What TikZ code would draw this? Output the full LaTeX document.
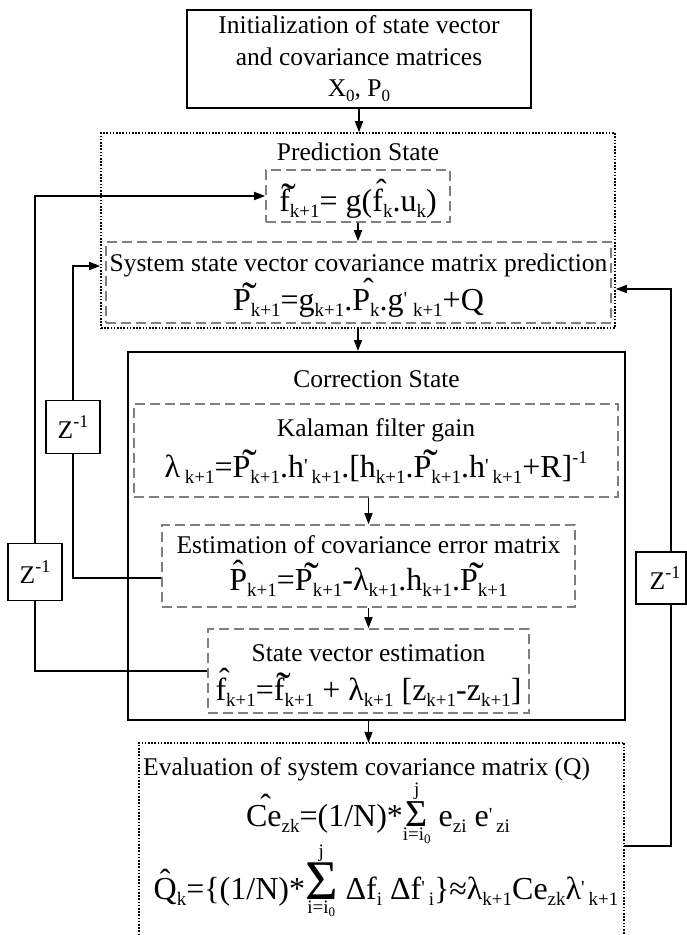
\documentclass[tikz,border=0pt]{standalone}
\usepackage{fontspec}
\setmainfont{Liberation Serif}
\newfontfamily\plainser{Liberation Serif}
\usetikzlibrary{arrows.meta,calc}

\newcommand\sbs[1]{\raisebox{-0.2em}{\fontsize{19}{19}\selectfont #1}}
\newcommand\tsb[1]{\raisebox{-0.2em}{\fontsize{17}{17}\selectfont #1}}
\newcommand\sps[1]{\raisebox{0.42em}{\fontsize{18}{18}\selectfont #1}}
\newcommand\sbz[1]{\raisebox{-0.15em}{\fontsize{13}{13}\selectfont #1}}
\newcommand\tld[1]{#1\rlap{\kern-0.25em\raisebox{-0.08em}{\fontsize{44}{44}\selectfont\symbol{"02DC}}}}
\newcommand\hatt[1]{#1\rlap{\kern-0.22em\raisebox{0.3em}{\symbol{"02C6}}}}
\newcommand\hatc[1]{{\ooalign{#1\cr\hidewidth\raisebox{0.22em}{\symbol{"02C6}}\hidewidth\cr}}}
\newcommand\prm{\raisebox{0.15em}{\fontsize{20}{20}\plainser '}}
\newcommand\lsum[3]{$\mathop{\hbox{\fontsize{#1}{#1}\selectfont Σ}}\limits_{\hbox{\raisebox{-#3}{\fontsize{19}{19}\selectfont i=i\sbz{0}}}}^{\hbox{\raisebox{#2}{\fontsize{19}{19}\selectfont j}}}$}

\begin{document}
\begin{tikzpicture}[x=1pt,y=-1pt,
  solidbox/.style={draw, line width=2pt, inner sep=0pt},
  dashbox/.style={draw=black!50, line width=1.6pt, dash pattern=on 10pt off 5pt, inner sep=0pt},
  dotbox/.style={draw, line width=1.6pt, dash pattern=on 1.6pt off 1.6pt, inner sep=0pt},
  zbox/.style={draw, line width=1.6pt, inner sep=0pt, font=\fontsize{25.5}{30}\selectfont},
  txt/.style={font=\fontsize{25.5}{31.5}\selectfont, inner sep=0pt},
  fml/.style={font=\fontsize{32}{38}\selectfont, inner sep=0pt},
  conn/.style={line width=1.6pt},
  arr/.style={conn, -{Triangle[length=11pt,width=8pt]}}]
\useasboundingbox (0,0) rectangle (686,935);

% top box
\node[solidbox, txt, align=center, minimum width=344pt, minimum height=98pt] (init) at (359,59)
  {Initialization of state vector\\and covariance matrices\\X\tsb{0}, P\tsb{0}};

% prediction
\node[dotbox, minimum width=514pt, minimum height=195pt] (pred) at (358,230.5) {};
\node[txt, anchor=base] (predt) at (358,160) {Prediction State};
\node[dashbox, minimum width=184pt, minimum height=52pt] (fbox) at (358,196) {};
\node[fml, anchor=base] (ff) at (358,211) {\tld{f}\sbs{k+1}= g(\hatt{f}\sbs{k}.u\sbs{k})};
\node[dashbox, minimum width=505pt, minimum height=81pt] (sys) at (358.5,282.5) {};
\node[txt, anchor=base] (syst) at (358.5,271) {System state vector covariance matrix prediction};
\node[fml, anchor=base] (sysf) at (358.5,310) {\tld{P}\sbs{k+1}=g\sbs{k+1}.\hatt{P}\sbs{k}.g\prm\sbs{\hspace{0.3em}k+1}+Q};

% correction
\node[solidbox, minimum width=497pt, minimum height=368pt] (corr) at (376.5,536) {};
\node[txt, anchor=base] (corrt) at (376.5,387) {Correction State};
\node[dashbox, minimum width=484pt, minimum height=93pt] (kal) at (376,450.5) {};
\node[txt, anchor=base] (kalt) at (376,436) {Kalaman filter gain};
\node[fml, anchor=base] (kalf) at (376,477) {λ\sbs{\hspace{0.25em}k+1}=\tld{P}\sbs{k+1}.h\prm\sbs{\hspace{0.2em}k+1}.[h\sbs{k+1}.\tld{P}\sbs{k+1}.h\prm\sbs{\hspace{0.2em}k+1}+R]\sps{-1}};
\node[dashbox, minimum width=413pt, minimum height=82pt] (est) at (368.5,566) {};
\node[txt, anchor=base] (estt) at (368.5,553) {Estimation of covariance error matrix};
\node[fml, anchor=base] (estf) at (368.5,590) {\hatc{P}\sbs{k+1}=\tld{P}\sbs{k+1}-λ\sbs{k+1}.h\sbs{k+1}.\tld{P}\sbs{k+1}};
\node[dashbox, minimum width=321pt, minimum height=84pt] (state) at (368.5,671) {};
\node[txt, anchor=base] (statet) at (368.5,661) {State vector estimation};
\node[fml, anchor=base] (statef) at (368.5,700) {\hatt{f}\sbs{k+1}=\tld{f}\sbs{k+1} + λ\sbs{k+1} [z\sbs{k+1}-z\sbs{k+1}]};

% evaluation
\node[minimum width=485pt, minimum height=192pt, inner sep=0pt] (eval) at (381.5,839) {};
\draw[dotbox] (eval.south west) -- (eval.north west) -- (eval.north east) -- (eval.south east);
\node[txt, anchor=base west] (evalt) at (143,775) {Evaluation of system covariance matrix (Q)};
\node[fml, anchor=base] (cf) at (378,826) {\hatt{C}e\sbs{zk}=(1/N)*\lsum{38}{3pt}{4pt} e\sbs{zi} e\prm\sbs{\hspace{0.2em}zi}};
\node[fml, anchor=base] (qf) at (386,899) {\hatc{Q}\sbs{k}=\{(1/N)*\lsum{56}{2pt}{6pt} Δf\sbs{i} Δf\prm\sbs{\hspace{0.2em}i}\}≈λ\sbs{k+1}Ce\sbs{zk}λ\prm\sbs{\hspace{0.2em}k+1}};

% delay boxes
\node[zbox, minimum width=54pt, minimum height=53pt] (zu) at (73,427) {Z\sps{-1}};
\node[zbox, minimum width=54pt, minimum height=57pt] (zl) at (35,572) {Z\sps{-1}};
\node[zbox, minimum width=50pt, minimum height=52pt] (zr) at (661,578) {\hspace{8pt}Z\sps{-1}};

\coordinate (lefty) at (0,266);
\coordinate (rx) at (671,0);
\coordinate (ry) at (0,846);
\coordinate (rtop) at (0,289);

% main flow
\draw[arr] (init.south) -- (init.south |- pred.north);
\draw[arr] (fbox.south) -- (fbox.south |- sys.north);
\draw[arr] (pred.south) -- (pred.south |- corr.north);
\draw[arr] (est.north |- kal.south) -- (est.north);
\draw[arr] (est.south) -- (state.north);
\draw[arr] (state.south |- corr.south) -- (state.south |- eval.north);

% feedback loops
\draw[conn] ($(est.west)+(0,12)$) -| (zu.south);
\draw[arr] (zu.north) |- (pred.west |- lefty);
\draw[conn] (state.west) -| (zl.south);
\draw[arr] (zl.north) |- (fbox.west);
\draw[conn] (eval.east |- ry) -| (rx |- zr.south);
\draw[arr] (rx |- zr.north) |- (pred.east |- rtop);
\end{tikzpicture}
\end{document}
